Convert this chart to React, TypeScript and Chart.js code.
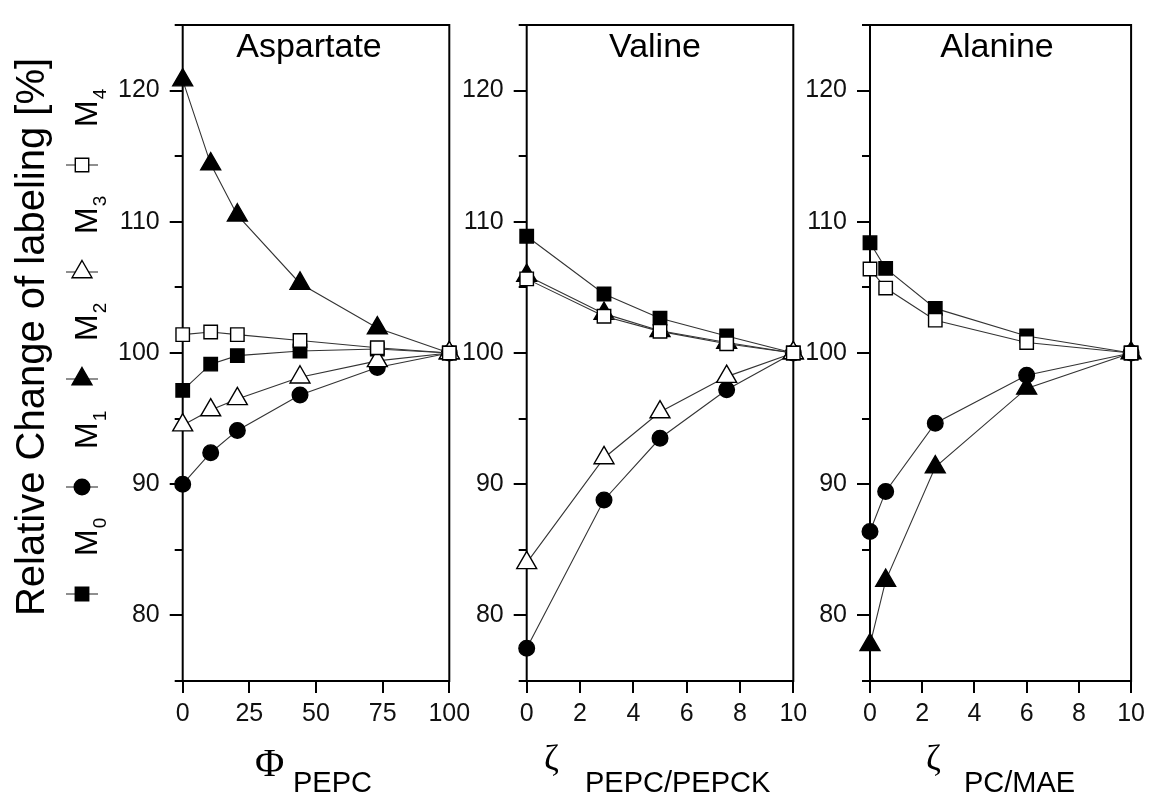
import React, { useEffect, useRef } from 'react';
import { Chart, registerables } from 'chart.js';
Chart.register(...registerables);

const SANS = '"Liberation Sans", Arial, Helvetica, sans-serif';
const SERIF = '"Liberation Serif", "Times New Roman", serif';

// ---------------- data ----------------
const seriesNames = ['M0', 'M1', 'M2', 'M3', 'M4'];

const aspX = [0, 10.5, 20.5, 44, 73, 100];
const aspM0 = [97.15, 99.15, 99.8, 100.15, 100.3, 100];
const aspM1 = [90.0, 92.4, 94.1, 96.8, 98.9, 100];
const aspM2 = [120.8, 114.4, 110.5, 105.3, 101.9, 100];
const aspM3 = [94.5, 95.65, 96.5, 98.15, 99.4, 100];
const aspM4 = [101.4, 101.6, 101.4, 100.95, 100.4, 100];

const valX = [0, 2.9, 5, 7.5, 10];
const valM0 = [108.9, 104.5, 102.65, 101.3, 100];
const valM1 = [77.5, 88.8, 93.5, 97.2, 100];
const valM2 = [105.9, 103.0, 101.7, 100.8, 100];
const valM3 = [84.0, 92.0, 95.5, 98.2, 100];
const valM4 = [105.65, 102.8, 101.65, 100.7, 100];

const alaX = [0, 0.6, 2.5, 6, 10];
const alaM0 = [108.4, 106.45, 103.4, 101.3, 100];
const alaM1 = [86.4, 89.45, 94.65, 98.3, 100];
const alaM2 = [77.75, 82.65, 91.3, 97.3, 100];
const alaM4 = [106.4, 104.95, 102.5, 100.8, 100];

const yTickValues = [75, 80, 85, 90, 95, 100, 105, 110, 115, 120, 125];
const yLabelValues = [80, 90, 100, 110, 120];
const aspTicks = [0, 25, 50, 75, 100];
const valTicks = [0, 2, 4, 6, 8, 10];
const alaTicks = [0, 2, 4, 6, 8, 10];

const panelTitles = ['Aspartate', 'Valine', 'Alanine'];
const xGreek = ['Φ', 'ζ', 'ζ'];
const xSub = ['PEPC', 'PEPC/PEPCK', 'PC/MAE'];
const yTitle = 'Relative Change of labeling [%]';

// ---------------- styles / layout ----------------
type St = { pointStyle: string; radius: number; fill: string };
const seriesStyles: St[] = [
  { pointStyle: 'rect', radius: 9.5, fill: '#000' },
  { pointStyle: 'circle', radius: 7.8, fill: '#000' },
  { pointStyle: 'triangle', radius: 11.5, fill: '#000' },
  { pointStyle: 'triangle', radius: 11.5, fill: '#fff' },
  { pointStyle: 'rect', radius: 9.5, fill: '#fff' },
];

const W = 1151;
const H = 802;
const TOP = 14;
const BOTTOM = 681;
const YAXIS_W = 70;
const XAXIS_H = 60;

const panels = [
  {
    x: aspX, series: [aspM0, aspM1, aspM2, aspM3, aspM4], xMax: 100, ticks: aspTicks,
    left: 182.7, right: 449.3, titleCx: 309, greekX: 255, greekSize: 40, greekBase: 776, subX: 293,
  },
  {
    x: valX, series: [valM0, valM1, valM2, valM3, valM4], xMax: 10, ticks: valTicks,
    left: 526.7, right: 793.3, titleCx: 655, greekX: 544, greekSize: 36, greekBase: 770, subX: 585,
  },
  {
    x: alaX, series: [alaM0, alaM1, alaM2, null, alaM4], xMax: 10, ticks: alaTicks,
    left: 870, right: 1136.7, titleCx: 997, greekX: 926, greekSize: 36, greekBase: 770, subX: 964,
  },
];

const legendCenters = [594, 487, 379, 272, 165];

function drawMarker(ctx: CanvasRenderingContext2D, st: St, x: number, y: number) {
  const r = st.radius;
  ctx.beginPath();
  if (st.pointStyle === 'rect') {
    const s = r * Math.SQRT1_2;
    ctx.rect(x - s, y - s, 2 * s, 2 * s);
  } else if (st.pointStyle === 'circle') {
    ctx.arc(x, y, r, 0, Math.PI * 2);
  } else {
    const sx = r * Math.sin((2 * Math.PI) / 3);
    ctx.moveTo(x, y - r);
    ctx.lineTo(x + sx, y + r / 2);
    ctx.lineTo(x - sx, y + r / 2);
    ctx.closePath();
  }
  ctx.fillStyle = st.fill;
  ctx.fill();
  ctx.lineWidth = 1.4;
  ctx.strokeStyle = '#000';
  ctx.stroke();
}

function makeConfig(idx: number) {
  const p = panels[idx];
  const datasets: any[] = [];
  p.series.forEach((vals, si) => {
    if (!vals) return;
    const st = seriesStyles[si];
    datasets.push({
      label: seriesNames[si],
      data: p.x.map((xv, k) => ({ x: xv, y: vals[k] })),
      borderColor: '#333',
      borderWidth: 1.1,
      pointStyle: st.pointStyle,
      pointRadius: st.radius,
      pointBackgroundColor: st.fill,
      pointBorderColor: '#000',
      pointBorderWidth: 1.4,
      order: 4 - si,
      clip: false,
      tension: 0,
      fill: false,
    });
  });

  const plugin = {
    id: 'deco' + idx,
    beforeDatasetsDraw(chart: any) {
      const ctx: CanvasRenderingContext2D = chart.ctx;
      const a = chart.chartArea;
      const ys = chart.scales.y;
      const xs = chart.scales.x;
      ctx.save();
      ctx.strokeStyle = '#000';
      ctx.lineWidth = 2;
      ctx.beginPath();
      yTickValues.forEach((v) => {
        const py = Math.round(ys.getPixelForValue(v));
        const len = yLabelValues.includes(v) ? 13 : 8;
        ctx.moveTo(a.left - len, py);
        ctx.lineTo(a.left, py);
      });
      p.ticks.forEach((v) => {
        const px = Math.round(xs.getPixelForValue(v));
        ctx.moveTo(px, a.bottom);
        ctx.lineTo(px, a.bottom + 12);
      });
      ctx.stroke();
      ctx.strokeRect(a.left, a.top, a.right - a.left, a.bottom - a.top);
      ctx.restore();
    },
    afterDraw(chart: any) {
      const ctx: CanvasRenderingContext2D = chart.ctx;
      ctx.save();
      ctx.fillStyle = '#000';
      ctx.textBaseline = 'alphabetic';
      // panel title
      ctx.font = `34px ${SANS}`;
      ctx.textAlign = 'center';
      ctx.fillText(panelTitles[idx], p.titleCx, 57);
      // x title
      ctx.textAlign = 'left';
      ctx.font = `${p.greekSize}px ${SERIF}`;
      ctx.fillText(xGreek[idx], p.greekX, p.greekBase);
      ctx.font = `29px ${SANS}`;
      ctx.fillText(xSub[idx], p.subX, 792);

      if (idx === 0) {
        // y title
        ctx.save();
        ctx.translate(43.5, 337);
        ctx.rotate(-Math.PI / 2);
        ctx.font = `40px ${SANS}`;
        ctx.textAlign = 'center';
        ctx.fillText(yTitle, 0, 0);
        ctx.restore();
        // legend
        seriesNames.forEach((name, si) => {
          const yc = legendCenters[si];
          ctx.strokeStyle = '#333';
          ctx.lineWidth = 1.1;
          ctx.beginPath();
          ctx.moveTo(66, yc);
          ctx.lineTo(98, yc);
          ctx.stroke();
          drawMarker(ctx, seriesStyles[si], 82, yc);
          ctx.save();
          ctx.translate(97, yc - 38);
          ctx.rotate(-Math.PI / 2);
          ctx.fillStyle = '#000';
          ctx.textAlign = 'left';
          ctx.font = `32px ${SANS}`;
          ctx.fillText(name.charAt(0), 0, 0);
          const w = ctx.measureText(name.charAt(0)).width;
          ctx.font = `19px ${SANS}`;
          ctx.fillText(name.slice(1), w + 1, 9);
          ctx.restore();
        });
      }
      ctx.restore();
    },
  };

  return {
    type: 'line' as const,
    data: { datasets },
    options: {
      responsive: false,
      animation: false as const,
      devicePixelRatio: 1,
      events: [] as any[],
      layout: {
        padding: {
          left: p.left - YAXIS_W,
          right: W - p.right,
          top: TOP,
          bottom: H - BOTTOM - XAXIS_H,
        },
      },
      plugins: { legend: { display: false }, tooltip: { enabled: false } },
      scales: {
        x: {
          type: 'linear' as const,
          min: 0,
          max: p.xMax,
          afterBuildTicks: (s: any) => {
            s.ticks = p.ticks.map((v) => ({ value: v }));
          },
          afterFit: (s: any) => {
            s.height = XAXIS_H;
          },
          grid: {
            display: true,
            drawOnChartArea: false,
            drawTicks: true,
            tickLength: 12,
            color: 'rgba(0,0,0,0)',
            tickColor: 'rgba(0,0,0,0)',
          },
          border: { display: false },
          ticks: {
            font: { family: SANS, size: 25 },
            color: '#111',
            padding: 6,
            maxRotation: 0,
            autoSkip: false,
            callback: (v: any) => String(v),
          },
        },
        y: {
          type: 'linear' as const,
          min: 75,
          max: 125,
          afterBuildTicks: (s: any) => {
            s.ticks = yTickValues.map((v) => ({ value: v }));
          },
          afterFit: (s: any) => {
            s.width = YAXIS_W;
          },
          grid: {
            display: true,
            drawOnChartArea: false,
            drawTicks: true,
            tickLength: 13,
            color: 'rgba(0,0,0,0)',
            tickColor: 'rgba(0,0,0,0)',
          },
          border: { display: false },
          ticks: {
            font: { family: SANS, size: 25 },
            color: '#111',
            padding: 10,
            autoSkip: false,
            callback: (v: any) => (yLabelValues.includes(v) ? String(v) : ''),
          },
        },
      },
    },
    plugins: [plugin],
  };
}

export default function App() {
  const r0 = useRef<HTMLCanvasElement>(null);
  const r1 = useRef<HTMLCanvasElement>(null);
  const r2 = useRef<HTMLCanvasElement>(null);
  const refs = [r0, r1, r2];

  useEffect(() => {
    const charts = refs.map((r, i) => new Chart(r.current as HTMLCanvasElement, makeConfig(i) as any));
    return () => charts.forEach((c) => c.destroy());
  }, []);

  return (
    <div style={{ position: 'absolute', left: 0, top: 0, width: W, height: H, background: '#fff' }}>
      {refs.map((r, i) => (
        <canvas
          key={i}
          ref={r}
          width={W}
          height={H}
          style={{ position: 'absolute', left: 0, top: 0, width: W, height: H }}
        />
      ))}
    </div>
  );
}
